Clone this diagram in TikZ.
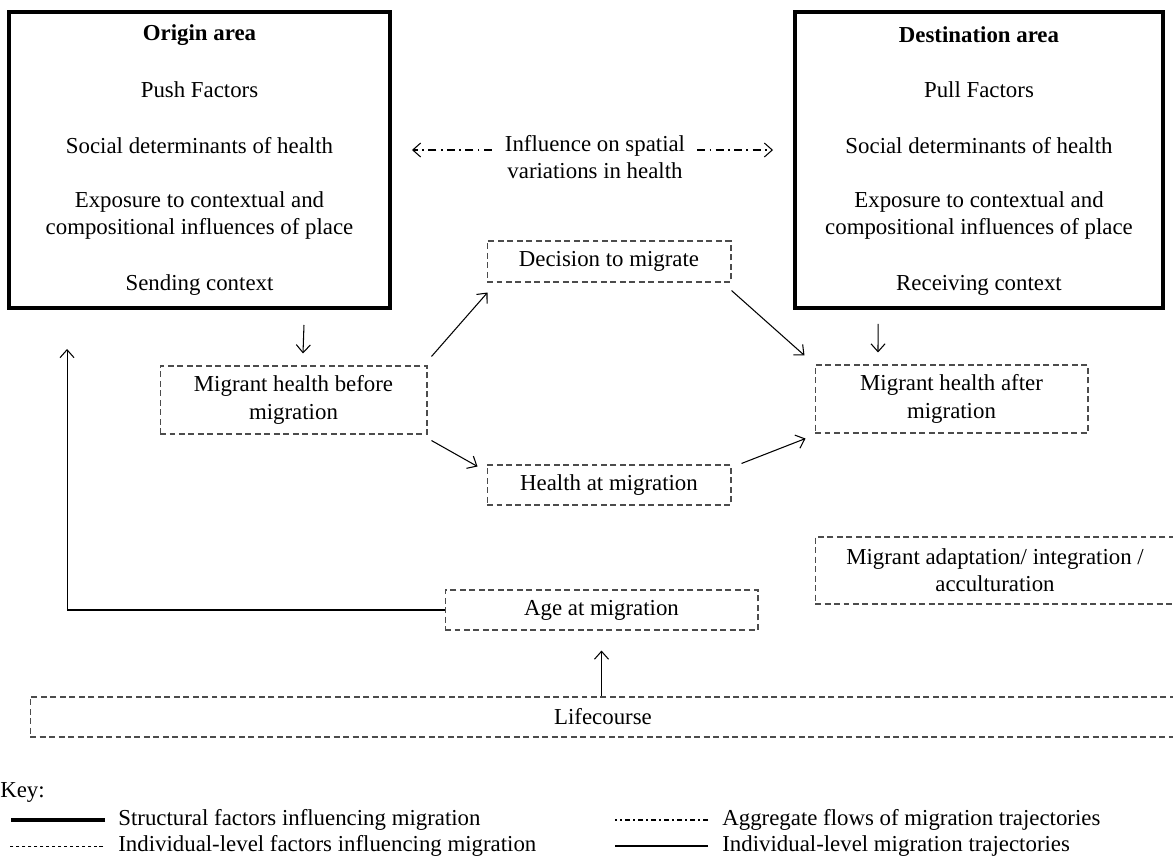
\documentclass[tikz,border=0pt]{standalone}
\usepackage{fontspec}
\setmainfont{Liberation Serif}
\usetikzlibrary{arrows.meta}

\tikzset{
  area/.style={draw=black, line width=2.3pt},
  indiv/.style={draw=black!70, line width=0.6pt, dash pattern=on 3.4pt off 2pt},
  traj/.style={black, line width=0.6pt, -{Straight Barb[length=4.5pt,width=8pt]}},
  aggr/.style={black, line width=0.6pt, dash pattern=on 4.5pt off 2.5pt on 1pt off 2.5pt,
    -{Straight Barb[length=4.5pt,width=8pt]}},
  lbl/.style={align=center},
  keytext/.style={anchor=west, inner sep=0pt}
}

\begin{document}
\begin{tikzpicture}[x=0.02cm, y=-0.02cm,
  every node/.style={font=\fontsize{13}{15.5}\selectfont}]
  \useasboundingbox (0,0) rectangle (1173,859);
  \clip (0,0) rectangle (1173,859);

  % origin and destination
  \node[area, minimum width=7.62cm, minimum height=5.92cm] (origin) at (199.5,160) {};
  \node[lbl] (originT) at (199.5,35) {\textbf{Origin area}};
  \node[lbl] (push) at (199.5,90) {Push Factors};
  \node[lbl] (sdhO) at (199.5,146) {Social determinants of health};
  \node[lbl] (expO) at (199.5,215.5) {Exposure to contextual and\\compositional influences of place};
  \node[lbl] (send) at (199.5,285) {Sending context};

  \node[area, minimum width=7.36cm, minimum height=5.92cm] (dest) at (979,160) {};
  \node[lbl] (destT) at (979,35) {\textbf{Destination area}};
  \node[lbl] (pull) at (979,90) {Pull Factors};
  \node[lbl] (sdhD) at (979,146) {Social determinants of health};
  \node[lbl] (expD) at (979,215.5) {Exposure to contextual and\\compositional influences of place};
  \node[lbl] (recv) at (979,285) {Receiving context};

  \node[lbl] (influence) at (595,157) {Influence on spatial\\variations in health};
  \draw[aggr, shorten >=0.4cm] ([shift={(-0.14cm,0.14cm)}]influence.west)
    -- ([yshift=0.14cm]influence.west -| origin.east);
  \draw[aggr, shorten >=0.4cm] ([shift={(0.12cm,0.14cm)}]influence.east)
    -- ([yshift=0.14cm]influence.east -| dest.west);

  % individual level
  \node[indiv, lbl, minimum width=4.88cm, minimum height=0.82cm] (decision) at (609,261.5) {Decision to migrate};
  \node[indiv, lbl, minimum width=5.34cm, minimum height=1.36cm] (before) at (293.5,400) {Migrant health before\\migration};
  \node[indiv, lbl, minimum width=5.46cm, minimum height=1.36cm] (after) at (951.5,399) {Migrant health after\\migration};
  \node[indiv, lbl, minimum width=4.88cm, minimum height=0.8cm] (healthat) at (609,485) {Health at migration};
  \node[indiv, lbl, minimum width=7.2cm, minimum height=1.34cm] (adapt) at (995,570.5) {Migrant adaptation/ integration /\\acculturation};
  \node[indiv, lbl, minimum width=6.26cm, minimum height=0.8cm] (age) at (601.5,610) {Age at migration};
  \node[indiv, lbl, minimum width=22.92cm, minimum height=0.8cm] (life) at (603,717) {Lifecourse};

  % trajectories
  \draw[traj] ([shift={(2.09cm,-0.3cm)}]origin.south) -- ([shift={(0.19cm,0.24cm)}]before.north);
  \draw[traj] ([shift={(-2.02cm,-0.28cm)}]dest.south) -- ([shift={(-1.47cm,0.24cm)}]after.north);
  \draw[traj] ([shift={(0.08cm,0.18cm)}]before.north east) -- ([shift={(0.02cm,-0.2cm)}]decision.south west);
  \draw[traj] ([yshift=-0.16cm]decision.south east) -- ([shift={(-0.2cm,0.18cm)}]after.north west);
  \draw[traj] ([shift={(0.08cm,-0.12cm)}]before.south east) -- ([shift={(-0.18cm,-0.04cm)}]healthat.north west);
  \draw[traj] ([shift={(0.2cm,0.02cm)}]healthat.north east) -- ([shift={(-0.18cm,-0.1cm)}]after.south west);
  \draw[traj] (age.west) -| ([shift={(-2.65cm,-0.78cm)}]origin.south);
  \draw[traj] (life.north -| age.south) -- ([yshift=-0.4cm]age.south);

  % key
  \node[keytext] (key) at (0,792) {Key:};
  \node[keytext] (k1) at (118,820) {Structural factors influencing migration};
  \node[keytext] (k2) at (118,846) {Individual-level factors influencing migration};
  \node[keytext] (k3) at (722,820) {Aggregate flows of migration trajectories};
  \node[keytext] (k4) at (722,846) {Individual-level migration trajectories};
  \draw[line width=2.8pt] ([xshift=-0.26cm]k1.west) -- ++(-1.88cm,0);
  \draw[black, line width=0.5pt, dash pattern=on 2pt off 1.4pt] ([xshift=-0.3cm]k2.west) -- ++(-1.86cm,0);
  \draw[black, line width=0.6pt, dash pattern=on 3pt off 1.8pt on 0.8pt off 1.8pt] ([xshift=-0.28cm]k3.west) -- ++(-1.86cm,0);
  \draw[black, line width=0.6pt] ([xshift=-0.28cm]k4.west) -- ++(-1.86cm,0);
\end{tikzpicture}
\end{document}
